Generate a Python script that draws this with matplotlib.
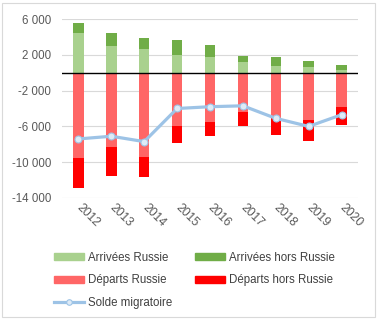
import matplotlib
matplotlib.use("Agg")
import matplotlib.pyplot as plt
import numpy as np
from matplotlib.patches import Patch, Rectangle
from matplotlib.lines import Line2D

plt.rcParams['font.family'] = ['Liberation Sans', 'DejaVu Sans']

# Données migratoires annuelles
annees = ['2012', '2013', '2014', '2015', '2016', '2017', '2018', '2019', '2020']
arrivees_russie = [4400, 3000, 2600, 2000, 1800, 1200, 700, 600, 300]
arrivees_hors_russie = [1100, 1400, 1300, 1600, 1300, 700, 1000, 700, 600]
departs_russie = [-9500, -8300, -9400, -6000, -5500, -4400, -5100, -5300, -3800]
departs_hors_russie = [-3400, -3200, -2200, -1800, -1600, -1500, -1900, -2300, -2000]
solde = [-7400, -7100, -7700, -4000, -3800, -3700, -5100, -6000, -4700]

c_arr_ru = '#A9D18E'
c_arr_hors = '#70AD47'
c_dep_ru = '#FF6666'
c_dep_hors = '#FF0000'
c_solde = '#9DC3E6'

fig = plt.figure(figsize=(3.79, 3.25), dpi=100)
ax = fig.add_axes([62 / 379, 1 - 198 / 325, (358 - 62) / 379, (198 - 19) / 325])

x = np.arange(len(annees))
w = 0.32
ax.bar(x, arrivees_russie, w, color=c_arr_ru, zorder=2)
ax.bar(x, arrivees_hors_russie, w, bottom=arrivees_russie, color=c_arr_hors, zorder=2)
ax.bar(x, departs_russie, w, color=c_dep_ru, zorder=2)
ax.bar(x, departs_hors_russie, w, bottom=departs_russie, color=c_dep_hors, zorder=2)

ax.plot(x, solde, color=c_solde, lw=2.3, marker='o', ms=5,
        mfc='#DEEBF7', mec=c_solde, mew=0.8, zorder=4)

ax.axhline(0, color='black', lw=1.0, zorder=3)

ax.set_xlim(-0.5, len(annees) - 0.5)
ax.set_ylim(-14000, 6000)
yt = [-14000, -10000, -6000, -2000, 2000, 6000]
ax.set_yticks(yt)
ax.set_yticklabels([f"{v:,}".replace(',', ' ') for v in yt], color='#595959', fontsize=8.3)
ax.yaxis.grid(True, color='#D9D9D9', lw=0.8, zorder=0)
ax.set_axisbelow(True)
ax.tick_params(axis='y', length=0, pad=8)
ax.tick_params(axis='x', length=0, pad=6)
ax.set_xticks(x)
ax.set_xticklabels(annees, rotation=-45, ha='left', va='center',
                   rotation_mode='anchor', color='#595959', fontsize=8.7)
for s in ax.spines.values():
    s.set_visible(False)

# légende remplie par colonnes : 3 à gauche, 2 à droite
handles = [
    Patch(color=c_arr_ru, label='Arrivées Russie'),
    Patch(color=c_dep_ru, label='Départs Russie'),
    Line2D([], [], color=c_solde, lw=2.3, marker='o', ms=4, mfc='#DEEBF7',
           mec=c_solde, mew=0.8, label='Solde migratoire'),
    Patch(color=c_arr_hors, label='Arrivées hors Russie'),
    Patch(color=c_dep_hors, label='Départs hors Russie'),
]
leg = fig.legend(handles=handles, ncol=2, loc='upper left',
                 bbox_to_anchor=(48 / 379, 1 - 246 / 325), frameon=False,
                 fontsize=8.3, handlelength=2.6, handleheight=0.55,
                 handletextpad=0.35, columnspacing=2.0, labelspacing=0.9,
                 borderpad=0)
for t in leg.get_texts():
    t.set_color('#404040')

# cadre du graphique
fig.patches.append(Rectangle((2 / 379, 1 - 317 / 325), 373 / 379, 314 / 325,
                             transform=fig.transFigure, fill=False,
                             ec='#D9D9D9', lw=0.8))

fig.savefig('out.png', dpi=100)
